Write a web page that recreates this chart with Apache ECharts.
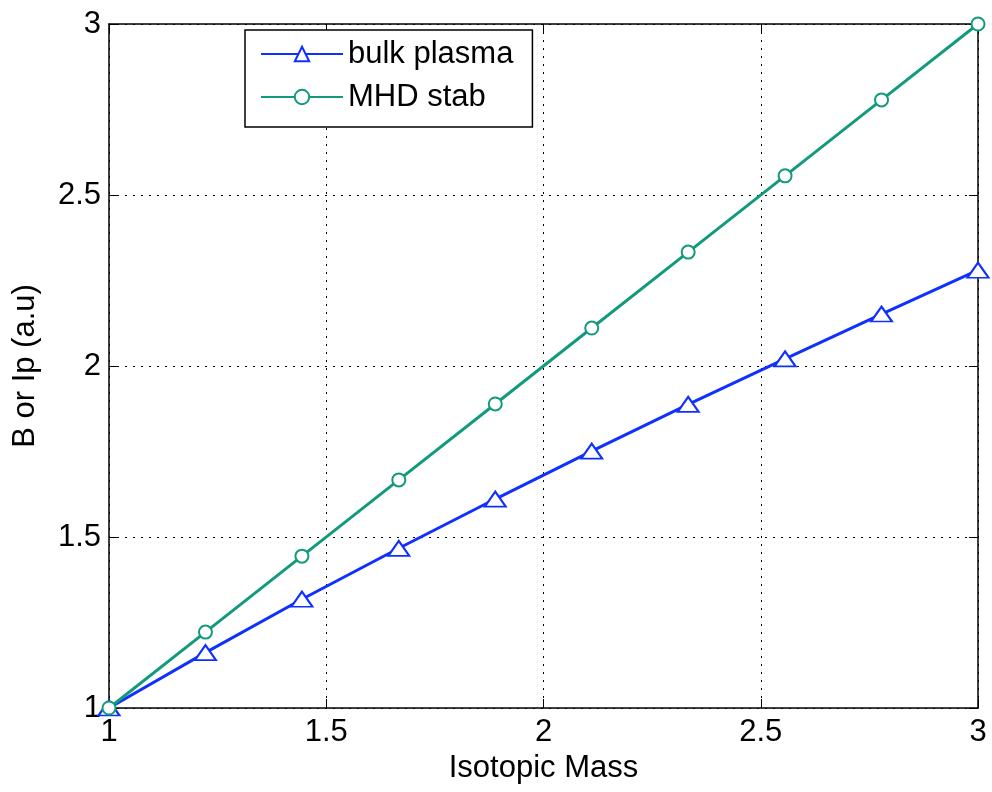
<!DOCTYPE html>
<html><head><meta charset="utf-8">
<script src="https://cdn.jsdelivr.net/npm/echarts@6/dist/echarts.min.js"></script>
<style>html,body{margin:0;padding:0;background:#fff}#c{width:992px;height:792px}</style>
</head><body><div id="c"></div>
<script>
const massValues = [1, 1.222, 1.444, 1.667, 1.889, 2.111, 2.333, 2.556, 2.778, 3];
const bulkPlasma = [1, 1.162, 1.318, 1.467, 1.611, 1.751, 1.888, 2.021, 2.152, 2.28];
const mhdStab = [1, 1.222, 1.444, 1.667, 1.889, 2.111, 2.333, 2.556, 2.778, 3];
const seriesNames = ['bulk plasma', 'MHD stab'];
const xTitle = 'Isotopic Mass';
const yTitle = 'B or Ip (a.u)';

const font = 'Liberation Sans, Arial, Helvetica, sans-serif';
const chart = echarts.init(document.getElementById('c'));
const fmt = v => String(v);
const baseAxis = {
  type: 'value', min: 1, max: 3, interval: 0.5,
  axisLine: {show: true, onZero: false, lineStyle: {color: '#000', width: 1.5}},
  axisTick: {show: true, inside: true, length: 9, lineStyle: {color: '#000', width: 1}},
  splitLine: {show: false}
};
chart.setOption({
  animation: false,
  backgroundColor: '#fff',
  grid: {left: 109, right: 14, top: 24, bottom: 84, containLabel: false, outerBoundsMode: 'none'},
  legend: {
    show: true, left: 245, top: 30, orient: 'vertical',
    backgroundColor: '#fff', borderColor: '#000', borderWidth: 1.5, borderRadius: 0,
    padding: [8, 19, 14, 15], itemGap: 11, itemWidth: 82, itemHeight: 18,
    textStyle: {fontFamily: font, fontSize: 31, color: '#000', lineHeight: 32},
    data: seriesNames
  },
  xAxis: [
    Object.assign({}, baseAxis, {
      position: 'bottom', name: xTitle, nameLocation: 'middle', nameGap: 45,
      nameTextStyle: {fontFamily: font, fontSize: 31, color: '#000'},
      axisLabel: {fontFamily: font, fontSize: 31, color: '#000', margin: 9, formatter: fmt},
      splitLine: {show: true, lineStyle: {color: '#000', type: [2, 6], width: 1}}
    }),
    Object.assign({}, baseAxis, {position: 'top', axisLabel: {show: false}})
  ],
  yAxis: [
    Object.assign({}, baseAxis, {
      position: 'left', name: yTitle, nameLocation: 'middle', nameGap: 68,
      nameTextStyle: {fontFamily: font, fontSize: 31, color: '#000'},
      axisLabel: {fontFamily: font, fontSize: 31, color: '#000', margin: 8, formatter: fmt},
      splitLine: {show: true, lineStyle: {color: '#000', type: [2, 6], width: 1}}
    }),
    Object.assign({}, baseAxis, {position: 'right', axisLabel: {show: false}})
  ],
  series: [
    {
      name: seriesNames[0], type: 'line',
      data: massValues.map((x, i) => [x, bulkPlasma[i]]),
      symbol: 'emptyTriangle', symbolSize: [21, 15], showAllSymbol: true,
      lineStyle: {color: '#1030ff', width: 3},
      itemStyle: {color: '#1030ff', borderWidth: 2.5}
    },
    {
      name: seriesNames[1], type: 'line',
      data: massValues.map((x, i) => [x, mhdStab[i]]),
      symbol: 'emptyCircle', symbolSize: 13, showAllSymbol: true,
      lineStyle: {color: '#129a7c', width: 3},
      itemStyle: {color: '#129a7c', borderWidth: 2.5}
    }
  ]
});
</script></body></html>
